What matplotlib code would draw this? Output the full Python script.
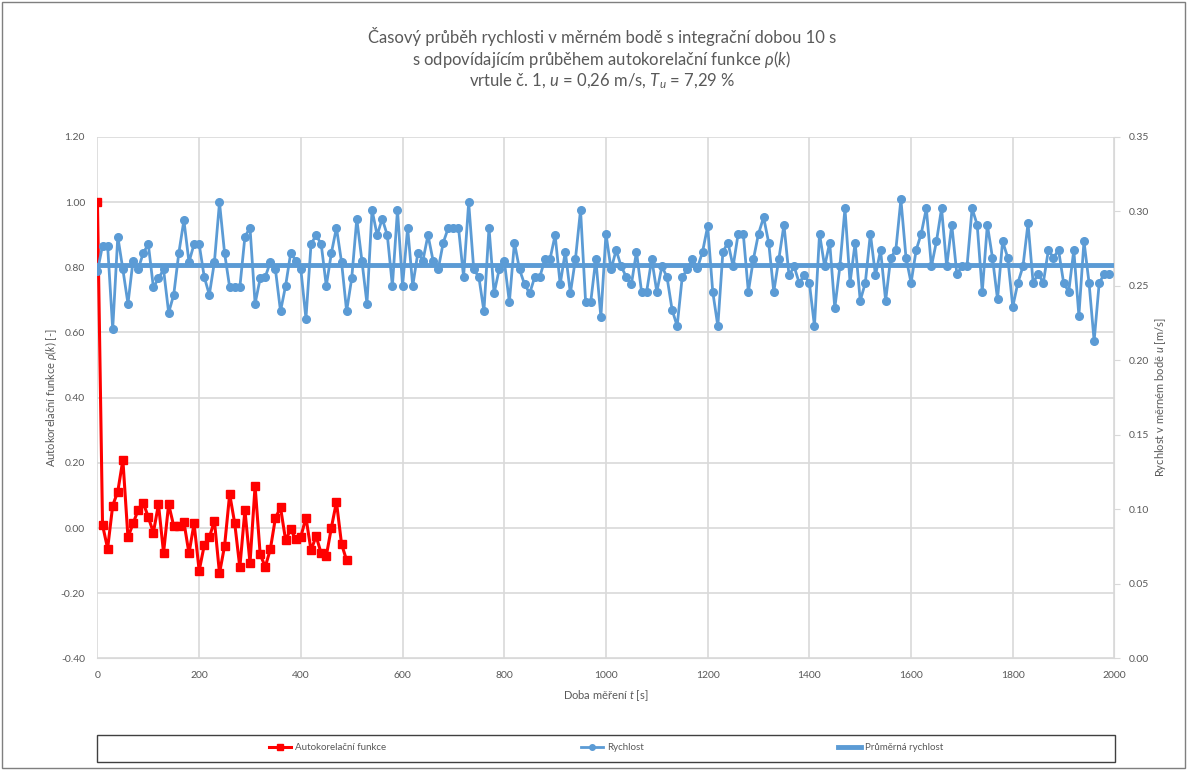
import numpy as np
import matplotlib
matplotlib.use('Agg')
import matplotlib.pyplot as plt
from matplotlib.patches import Rectangle
from matplotlib.lines import Line2D

plt.rcParams['font.family'] = ['Lato', 'DejaVu Sans']
plt.rcParams['mathtext.fontset'] = 'custom'
plt.rcParams['mathtext.rm'] = 'Lato'
plt.rcParams['mathtext.it'] = 'Lato:italic'
plt.rcParams['mathtext.fallback'] = 'stixsans'

# autokorelacni funkce rho(k), krok 10 s
time_rho = np.arange(0, 500, 10)
rho = [1.000, 0.009, -0.063, 0.069, 0.112, 0.209, -0.029, 0.014, 0.055, 0.078,
       0.033, -0.014, 0.073, -0.076, 0.073, 0.006, 0.006, 0.019, -0.078, 0.014,
       -0.131, -0.053, -0.029, 0.022, -0.139, -0.055, 0.104, 0.014, -0.121, 0.055,
       -0.107, 0.129, -0.081, -0.119, -0.065, 0.031, 0.063, -0.037, -0.004, -0.035,
       -0.027, 0.032, -0.068, -0.025, -0.078, -0.086, 0.001, 0.080, -0.049, -0.099]

# rychlost u [m/s], integracni doba 10 s
time_u = np.arange(0, 2000, 10)
u = [0.260, 0.277, 0.277, 0.221, 0.283, 0.261, 0.238, 0.267, 0.261, 0.272,
     0.278, 0.249, 0.255, 0.261, 0.232, 0.244, 0.272, 0.294, 0.266, 0.278,
     0.278, 0.256, 0.244, 0.266, 0.306, 0.272, 0.249, 0.249, 0.249, 0.283,
     0.289, 0.238, 0.255, 0.256, 0.266, 0.261, 0.233, 0.250, 0.272, 0.267,
     0.261, 0.228, 0.278, 0.284, 0.278, 0.250, 0.272, 0.289, 0.266, 0.233,
     0.255, 0.295, 0.267, 0.238, 0.301, 0.284, 0.295, 0.284, 0.250, 0.301,
     0.250, 0.289, 0.250, 0.272, 0.267, 0.284, 0.267, 0.261, 0.279, 0.289,
     0.289, 0.289, 0.256, 0.306, 0.261, 0.256, 0.233, 0.289, 0.245, 0.261,
     0.267, 0.239, 0.279, 0.261, 0.251, 0.245, 0.256, 0.256, 0.268, 0.268,
     0.284, 0.251, 0.273, 0.245, 0.268, 0.301, 0.239, 0.239, 0.268, 0.229,
     0.285, 0.261, 0.274, 0.263, 0.256, 0.251, 0.273, 0.246, 0.246, 0.268,
     0.246, 0.263, 0.256, 0.234, 0.223, 0.256, 0.261, 0.268, 0.262, 0.273,
     0.290, 0.246, 0.223, 0.273, 0.279, 0.263, 0.285, 0.285, 0.246, 0.268,
     0.285, 0.296, 0.279, 0.246, 0.268, 0.291, 0.257, 0.263, 0.252, 0.257,
     0.252, 0.223, 0.285, 0.263, 0.279, 0.235, 0.263, 0.302, 0.252, 0.279,
     0.240, 0.252, 0.285, 0.257, 0.274, 0.240, 0.269, 0.274, 0.308, 0.269,
     0.252, 0.274, 0.285, 0.302, 0.263, 0.280, 0.302, 0.263, 0.291, 0.258,
     0.263, 0.263, 0.302, 0.291, 0.246, 0.291, 0.269, 0.241, 0.280, 0.269,
     0.236, 0.252, 0.263, 0.292, 0.252, 0.258, 0.252, 0.274, 0.269, 0.274,
     0.252, 0.246, 0.274, 0.230, 0.280, 0.252, 0.213, 0.252, 0.258, 0.258]
u_mean = 0.264
t_end = 2000

red = '#FF0000'
blue = '#5B9BD5'
grey_txt = '#595959'
grid_c = '#D9D9D9'

fig = plt.figure(figsize=(11.87, 7.70), dpi=100)
ax = fig.add_axes([0.0821, 0.1449, 0.9389 - 0.0821, 0.8223 - 0.1449])
ax2 = ax.twinx()

ax.plot(time_rho, rho, color=red, lw=2.2, marker='s', ms=5.5, zorder=3)
ax2.plot(time_u, u, color=blue, lw=2.0, marker='o', ms=5.5, zorder=3)
ax2.plot([time_u[0], t_end], [u_mean, u_mean], color=blue, lw=3.5, zorder=4)

ax.set_xlim(0, 2000)
ax.set_ylim(-0.4, 1.2)
ax2.set_ylim(0, 0.35)
ax.set_xticks(np.arange(0, 2001, 200))
ax.set_yticks(np.arange(-0.4, 1.21, 0.2))
ax2.set_yticks(np.arange(0, 0.351, 0.05))
ax.set_yticklabels(['%.2f' % v for v in np.arange(-0.4, 1.21, 0.2)])
ax2.set_yticklabels(['%.2f' % v for v in np.arange(0, 0.351, 0.05)])

ax.grid(True, color=grid_c, lw=1.2)
ax.set_axisbelow(True)
for a in (ax, ax2):
    for s in ('top', 'left'):
        a.spines[s].set_visible(False)
    a.spines['bottom'].set_color(grid_c)
    a.spines['right'].set_color(grid_c)
ax.spines['right'].set_visible(False)
ax2.spines['bottom'].set_visible(False)

ax.tick_params(axis='both', length=0, labelsize=7.5, labelcolor=grey_txt, pad=9)
ax2.tick_params(axis='y', length=4, color=grid_c, labelsize=7.5, labelcolor=grey_txt, pad=6)

ax.set_xlabel('Doba měření $t$ [s]', fontsize=8, color=grey_txt, labelpad=6)
ax.set_ylabel(r'Autokorelační funkce $\rho(k)$ [-]', fontsize=8, color=grey_txt, labelpad=1)
ax2.set_ylabel('Rychlost v měrném bodě $u$ [m/s]', fontsize=8, color=grey_txt, labelpad=3)

fig.text(0.507, 0.952, 'Časový průběh rychlosti v měrném bodě s integrační dobou 10 s',
         ha='center', va='center', fontsize=12, color=grey_txt)
fig.text(0.507, 0.923, r's odpovídajícím průběhem autokorelační funkce $\rho(k)$',
         ha='center', va='center', fontsize=12, color=grey_txt)
fig.text(0.507, 0.895, r'vrtule č. 1, $u$ = 0,26 m/s, $T_u$ = 7,29 %',
         ha='center', va='center', fontsize=12, color=grey_txt)

# legenda dole
handles = [Line2D([], [], color=red, lw=2.2, marker='s', ms=5),
           Line2D([], [], color=blue, lw=2.0, marker='o', ms=4),
           Line2D([], [], color=blue, lw=3.5)]
labels = ['Autokorelační funkce', 'Rychlost', 'Průměrná rychlost']
fig.legend(handles, labels, loc='center', bbox_to_anchor=(606 / 1187, 1 - 748 / 770),
           ncol=3, frameon=False, fontsize=7, labelcolor=grey_txt,
           handlelength=2.3, handletextpad=0.4, columnspacing=20)
fig.patches.append(Rectangle((97 / 1187, 1 - 762 / 770), (1115 - 97) / 1187, 27 / 770,
                             transform=fig.transFigure, fill=False, ec='#404040', lw=1.0))
fig.patches.append(Rectangle((2 / 1187, 2 / 770), 1183 / 1187, 766 / 770,
                             transform=fig.transFigure, fill=False, ec='#7F7F7F', lw=1.0))

fig.savefig('out.png', dpi=100)
